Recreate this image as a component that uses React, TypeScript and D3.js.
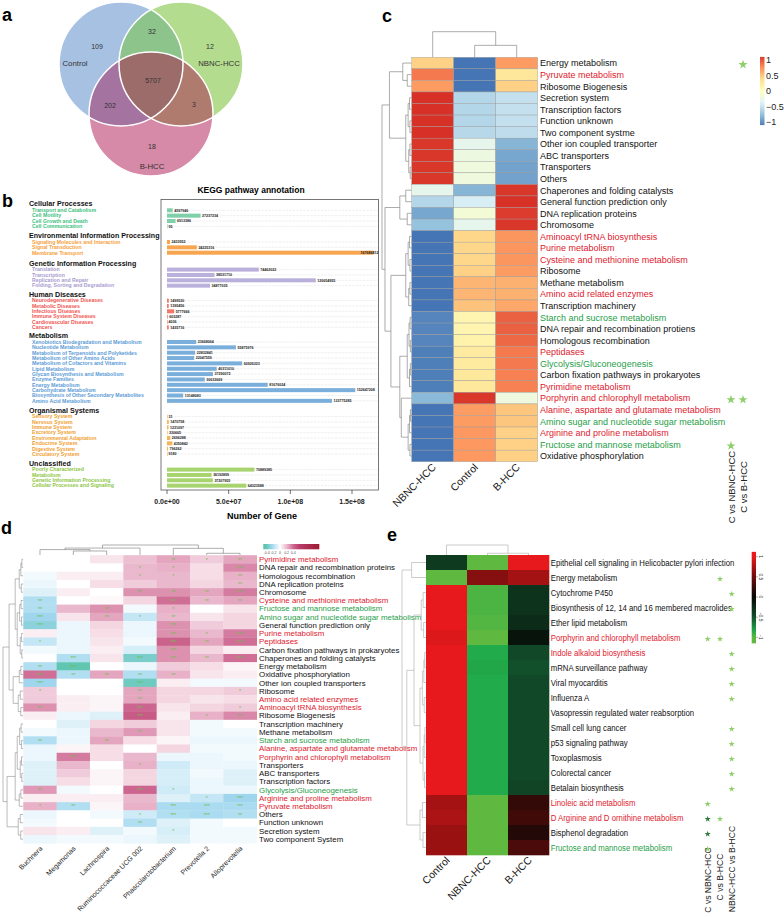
import React from "react";
import * as d3 from "d3";

// ---------- panel a : venn ----------
const vennNames = ["Control", "NBNC-HCC", "B-HCC"];
// only C, only N, only B, C&N, C&B, N&B, all
const vennCounts = [109, 12, 18, 32, 202, 3, 5707];

// ---------- panel b : KEGG annotation ----------
const keggGroups = [
  "Cellular Processes",
  "Environmental Information Processing",
  "Genetic Information Processing",
  "Human Diseases",
  "Metabolism",
  "Organismal Systems",
  "Unclassified",
];
const keggPathways = [
  ["Transport and Catabolism", "Cell Motility", "Cell Growth and Death", "Cell Communication"],
  ["Signaling Molecules and Interaction", "Signal Transduction", "Membrane Transport"],
  ["Translation", "Transcription", "Replication and Repair", "Folding, Sorting and Degradation"],
  ["Neurodegenerative Diseases", "Metabolic Diseases", "Infectious Diseases", "Immune System Diseases", "Cardiovascular Diseases", "Cancers"],
  [
    "Xenobiotics Biodegradation and Metabolism",
    "Nucleotide Metabolism",
    "Metabolism of Terpenoids and Polyketides",
    "Metabolism of Other Amino Acids",
    "Metabolism of Cofactors and Vitamins",
    "Lipid Metabolism",
    "Glycan Biosynthesis and Metabolism",
    "Enzyme Families",
    "Energy Metabolism",
    "Carbohydrate Metabolism",
    "Biosynthesis of Other Secondary Metabolites",
    "Amino Acid Metabolism",
  ],
  ["Sensory System", "Nervous System", "Immune System", "Excretory System", "Environmental Adaptation", "Endocrine System", "Digestive System", "Circulatory System"],
  ["Poorly Characterized", "Metabolism", "Genetic Information Processing", "Cellular Processes and Signaling"],
];
const keggGenes = [
  [4597946, 27237234, 6913386, 95],
  [2433952, 24225316, 167686812],
  [74462022, 38531710, 120654955, 34877035],
  [1499520, 1395456, 5777666, 603287, 4036, 1435716],
  [23668064, 55875976, 22832841, 22047559, 60926323, 40311010, 37290072, 30633669, 81676024, 152647208, 13148083, 133775285],
  [31, 1470758, 1231097, 330665, 2696288, 4350842, 796262, 9180],
  [70889385, 36192899, 37207955, 64323588],
];
const keggTicks = [0, 5e7, 1e8, 1.5e8];
const keggTickLabels = ["0.0e+00", "5.0e+07", "1.0e+08", "1.5e+08"];
const keggTextColors = ["#3cbf80", "#f5a03c", "#a99bd0", "#ef5550", "#5b9bd5", "#f0a030", "#8cc63f"];
const keggBarColors = ["#7fd0a8", "#f7a54e", "#b9b0dc", "#f2786a", "#7aafdc", "#f6b458", "#a8d46f"];

// ---------- panel c ----------
const cCols = ["NBNC-HCC", "Control", "B-HCC"];
const cRows = [
  "Energy metabolism", "Pyruvate metabolism", "Ribosome Biogenesis", "Secretion system", "Transcription factors",
  "Function unknown", "Two component systme", "Other ion coupled transporter", "ABC transporters", "Transporters",
  "Others", "Chaperones and folding catalysts", "General function prediction only", "DNA replication proteins", "Chromosome",
  "Aminoacyl tRNA biosynthesis", "Purine metabolism", "Cysteine and methionine metabolism", "Ribosome", "Methane metabolism",
  "Amino acid related enzymes", "Transcription machinery", "Starch and sucrose metabolism", "DNA repair and recombination protiens", "Homologous recombination",
  "Peptidases", "Glycolysis/Gluconeogenesis", "Carbon fixation pathways in prokaryotes", "Pyrimidine metabolism", "Porphyrin and chlorophyll metabolism",
  "Alanine, aspartate and glutamate metabolism", "Amino sugar and nucleotide sugar metabolism", "Arginine and proline metabolism", "Fructose and mannose metabolism", "Oxidative phosphorylation",
];
const cTone = [
  "k", "r", "k", "k", "k", "k", "k", "k", "k", "k",
  "k", "k", "k", "k", "k", "r", "r", "r", "k", "k",
  "r", "k", "g", "k", "k", "r", "g", "k", "r", "r",
  "r", "g", "r", "g", "k",
];
const cValues = [
  [0.45, -1.15, 0.7], [0.85, -1.15, 0.3], [0.7, -1.15, 0.45], [1.15, -0.6, -0.52], [1.15, -0.6, -0.52],
  [1.15, -0.6, -0.52], [1.15, -0.58, -0.55], [1.12, -0.3, -0.82], [1.12, -0.22, -0.9], [1.12, -0.2, -0.92],
  [1.12, -0.2, -0.92], [-0.3, -0.82, 1.12], [-0.6, -0.42, 1.14], [-0.9, -0.15, 1.1], [-0.75, -0.3, 1.12],
  [-1.15, 0.42, 0.73], [-1.15, 0.42, 0.73], [-1.15, 0.42, 0.73], [-1.15, 0.45, 0.7], [-1.15, 0.58, 0.6],
  [-1.15, 0.58, 0.6], [-1.15, 0.52, 0.65], [-1.07, 0.12, 0.95], [-1.07, 0.12, 0.95], [-1.07, 0.15, 0.92],
  [-1.1, 0.25, 0.85], [-1.1, 0.25, 0.85], [-1.1, 0.28, 0.82], [-1.1, 0.28, 0.82], [-0.8, 1.12, -0.2],
  [-1.15, 0.7, 0.5], [-1.15, 0.7, 0.5], [-1.15, 0.72, 0.45], [-1.15, 0.72, 0.45], [-1.15, 0.72, 0.45],
];
const cCompare = ["C vs NBNC-HCC", "C vs B-HCC"];
const cStars: Record<number, number[]> = { 0: [1], 29: [0, 1], 33: [0] };
const cLegendTicks = [1, 0.5, 0, -0.5, -1];

// ---------- panel d ----------
const dCols = ["Buchnera", "Megamonas", "Lachnospira", "Ruminococcaceae UCG 002", "Phascolarctobacterium", "Prevotella 2", "Alloprevotella"];
const dRows = [
  "Pyrimidine metabolism", "DNA repair and recombination proteins", "Homologous recombination", "DNA replication proteins", "Chromosome",
  "Cysteine and methionine metabolism", "Fructose and mannose metabolism", "Amino sugar and nucleotide sugar metabolism", "General function prediction only", "Purine metabolism",
  "Peptidases", "Carbon fixation pathways in prokaryotes", "Chaperones and folding catalysts", "Energy metabolism", "Oxidative phosphorylation",
  "Other ion coupled transporters", "Ribosome", "Amino acid related enzymes", "Aminoacyl tRNA biosynthesis", "Ribosome Biogenesis",
  "Transcription machinery", "Methane metabolism", "Starch and sucrose metabolism", "Alanine, aspartate and glutamate metabolism", "Porphyrin and chlorophyll metabolism",
  "Transporters", "ABC transporters", "Transcription factors", "Glycolysis/Gluconeogenesis", "Arginine and proline metabolism",
  "Pyruvate metabolism", "Others", "Function unknown", "Secretion system", "Two component System",
];
const dTone = [
  "r", "k", "k", "k", "k", "r", "g", "g", "k", "r",
  "r", "k", "k", "k", "k", "k", "k", "r", "r", "k",
  "k", "k", "g", "r", "r", "k", "k", "k", "g", "r",
  "r", "k", "k", "k", "k",
];
const dValues = [
  [0, 0, 0.08, 0.18, 0.25, 0.15, 0.25],
  [0, 0, 0, 0.2, 0.22, 0.1, 0.32],
  [-0.03, 0.05, 0.05, 0.2, 0.2, 0.1, 0.22],
  [-0.05, 0, 0.1, 0.15, 0.2, 0.12, 0.2],
  [-0.08, 0.05, 0, 0.3, 0.3, 0.25, 0.35],
  [-0.2, 0, 0.02, 0.12, 0.38, 0.2, 0.25],
  [-0.2, 0.2, 0.3, -0.03, 0.22, 0, 0.08],
  [-0.25, 0.08, 0.25, -0.15, 0.2, 0.08, 0.12],
  [-0.3, -0.05, 0.12, -0.05, 0.3, 0.15, 0.12],
  [0.05, -0.05, 0.1, -0.05, 0.3, 0.2, 0.35],
  [-0.15, -0.05, 0.08, -0.03, 0.42, 0.25, 0.38],
  [-0.03, -0.05, 0.05, -0.1, 0.3, 0.12, 0.05],
  [0, -0.2, 0.08, -0.35, 0.3, 0.2, 0.38],
  [-0.2, -0.42, 0, -0.05, 0.15, 0.1, 0.03],
  [0.38, -0.2, 0.25, -0.2, 0.22, 0.08, 0.05],
  [-0.25, 0, 0, -0.38, 0.05, -0.03, -0.03],
  [0.15, 0, 0, 0.25, 0.12, 0.12, 0.15],
  [0.15, 0.05, 0.03, 0.25, 0.12, 0.08, 0.1],
  [0.3, 0.05, 0.03, 0.4, 0.08, 0.12, 0.15],
  [0.05, -0.05, -0.08, 0.45, 0.05, 0.22, 0.32],
  [0, -0.08, 0.12, 0.15, 0.08, -0.03, 0],
  [-0.03, -0.05, 0.2, 0.28, 0.08, -0.03, -0.03],
  [-0.2, -0.05, 0.25, 0.1, 0.03, -0.05, -0.05],
  [-0.05, 0.03, 0.1, 0, 0.12, -0.03, -0.03],
  [-0.05, 0.35, 0.1, 0.2, -0.05, -0.05, -0.03],
  [-0.08, 0.2, 0, 0.22, -0.12, -0.05, -0.05],
  [-0.08, 0.15, 0.03, 0.12, -0.1, -0.03, -0.08],
  [-0.08, 0.1, 0.03, 0.12, -0.1, -0.05, -0.08],
  [0.28, -0.03, 0, 0.4, -0.12, -0.05, -0.05],
  [0.05, 0.05, 0.05, 0.2, -0.08, -0.15, -0.25],
  [0.22, -0.2, 0.03, 0.22, -0.22, -0.22, -0.22],
  [-0.05, 0, -0.03, -0.12, -0.2, -0.22, -0.2],
  [-0.03, 0, 0, -0.2, -0.08, -0.03, 0],
  [0.08, 0.05, -0.08, -0.03, -0.1, -0.03, -0.03],
  [-0.05, -0.03, -0.03, -0.05, -0.08, -0.03, -0.03],
];
const dSig = [
  ["", "", "", "", "**", "*", "**"],
  ["", "", "", "*", "*", "", "***"],
  ["", "", "", "*", "*", "", "**"],
  ["", "", "", "", "", "", "**"],
  ["", "", "", "**", "**", "**", "***"],
  ["**", "", "", "", "***", "**", "**"],
  ["**", "", "**", "", "*", "", ""],
  ["***", "", "**", "*", "**", "", ""],
  ["***", "", "", "", "***", "", ""],
  ["", "", "", "", "***", "*", "***"],
  ["*", "", "", "", "***", "**", "***"],
  ["", "", "", "", "***", "", ""],
  ["", "***", "", "***", "***", "**", "***"],
  ["**", "***", "", "", "", "", ""],
  ["***", "**", "**", "**", "**", "", ""],
  ["***", "", "", "***", "", "", ""],
  ["*", "", "", "**", "", "", "*"],
  ["", "", "", "**", "", "", ""],
  ["**", "", "", "***", "", "", "*"],
  ["", "", "", "***", "", "*", "**"],
  ["", "", "", "", "", "", ""],
  ["", "", "", "**", "", "", ""],
  ["**", "", "**", "", "", "", ""],
  ["", "", "", "", "", "", ""],
  ["", "***", "", "", "", "", ""],
  ["", "", "", "*", "", "", ""],
  ["", "", "", "", "", "", ""],
  ["", "", "", "", "", "", ""],
  ["**", "", "", "***", "*", "", ""],
  ["", "", "", "", "", "*", "***"],
  ["*", "**", "", "", "***", "***", "***"],
  ["", "", "", "*", "***", "***", "**"],
  ["", "", "", "**", "", "", ""],
  ["", "", "", "", "*", "", ""],
  ["", "", "", "", "", "", ""],
];
const dLegendTicks = [-0.4, -0.2, 0, 0.2, 0.4];

// ---------- panel e ----------
const eCols = ["Control", "NBNC-HCC", "B-HCC"];
const eRows = [
  "Epithelial cell signaling in Helicobacter pylori infection", "Energy metabolism", "Cytochrome P450",
  "Biosynthesis of 12, 14 and 16 membered macrolides", "Ether lipid metabolism", "Porphyrin and chlorophyll metabolism",
  "Indole alkaloid biosynthesis", "mRNA surveillance pathway", "Viral myocarditis", "Influenza A",
  "Vasopressin regulated water reabsorption", "Small cell lung cancer", "p53 signaling pathway", "Toxoplasmosis",
  "Colorectal cancer", "Betalain biosynthesis", "Linoleic acid metabolism", "D Arginine and D ornithine metabolism",
  "Bisphenol degradation", "Fructose and mannose metabolism",
];
const eTone = ["k", "k", "k", "k", "k", "r", "r", "k", "k", "k", "k", "k", "k", "k", "k", "k", "r", "r", "k", "g"];
const eValues = [
  [-0.35, -1, 1], [-1, 0.6, 0.72], [1, -0.95, -0.3], [1, -0.95, -0.3], [1, -0.97, -0.25],
  [0.95, -1, -0.08], [1, -0.85, -0.45], [1, -0.83, -0.5], [1, -0.85, -0.45], [1, -0.85, -0.45],
  [1, -0.85, -0.45], [1, -0.85, -0.45], [1, -0.85, -0.45], [1, -0.85, -0.45], [1, -0.85, -0.45],
  [1, -0.85, -0.42], [0.72, -1, 0.22], [0.75, -1, 0.28], [0.68, -1, 0.14], [0.68, -1, 0.33],
];
const eCompare = ["C vs NBNC-HCC", "C vs B-HCC", "NBNC-HCC vs B-HCC"];
// l = light star, d = dark star
const eStars = [
  ["", "", ""], ["", "l", ""], ["", "", "l"], ["", "", "l"], ["", "", ""],
  ["l", "l", ""], ["", "", "l"], ["", "", "l"], ["", "", "l"], ["", "", "l"],
  ["", "", ""], ["", "", "l"], ["", "", "l"], ["", "", "l"], ["", "", "l"],
  ["", "", "l"], ["l", "", ""], ["d", "l", ""], ["d", "", ""], ["l", "", ""],
];
const eLegendTicks = [1, 0.5, 0, -0.5, -1];

// ---------- helpers ----------
type Tree = number | [number, Tree, Tree];

const span = (lo: number, hi: number, h: number): Tree => {
  if (lo === hi) return lo;
  const mid = Math.floor((lo + hi) / 2);
  return [h, span(lo, mid, h * 0.6), span(mid + 1, hi, h * 0.5)];
};

function dendroPath(t: Tree, leaf: (i: number) => number, hs: (h: number) => number, rows: boolean) {
  let d = "";
  const pt = (p: number, h: number) => (rows ? `${hs(h)},${p}` : `${p},${hs(h)}`);
  const walk = (n: Tree): { p: number; h: number } => {
    if (typeof n === "number") return { p: leaf(n), h: 0 };
    const [h, a, b] = n;
    const A = walk(a);
    const B = walk(b);
    d += `M${pt(A.p, A.h)}L${pt(A.p, h)}L${pt(B.p, h)}L${pt(B.p, B.h)}`;
    return { p: (A.p + B.p) / 2, h };
  };
  walk(t);
  return d;
}

const toneColor: Record<string, string> = { k: "#111", r: "#e0202e", g: "#1f9e48" };
const lightStar = "#8fce6a";
const darkStar = "#2f7a3a";

const Lbl = ({ x, y, fs, sx, fill, children }: any) => (
  <text transform={`translate(${x},${y}) scale(${sx},1)`} fontSize={fs} fill={fill} dy="0.35em">
    {children}
  </text>
);

export default function App() {
  const W = 784;
  const H = 917;
  const font = "'Liberation Sans', Arial, Helvetica, sans-serif";

  // ---- a ----
  const vc = [
    { x: 121, y: 64 },
    { x: 181, y: 64 },
    { x: 151, y: 114 },
  ];
  const vr = 62;
  const vennPos = [
    [97, 47], [210, 47], [152, 147], [152, 32], [110, 106], [194, 105], [153, 81],
  ];
  const vennNamePos = [
    [75, 63], [219, 63], [152, 166],
  ];

  // ---- b ----
  const xB = d3.scaleLinear().domain([0, 1.5e8]).range([167, 352]);
  const headerY = [204, 235.7, 263.3, 294.3, 335.7, 410.3, 463.3];
  const boxL = 161, boxR = 378.5, boxT = 199.5, boxB = 490;

  // ---- c ----
  const xC = d3.scaleBand<string>().domain(cCols).range([411.7, 537.7]);
  const yC = d3.scaleBand<number>().domain(d3.range(cRows.length)).range([57.3, 461.7]);
  const colC = d3
    .scaleLinear<string>()
    .domain([-1.15, -0.77, -0.38, 0, 0.38, 0.77, 1.15])
    .range(["#4575B4", "#91BFDB", "#E0F3F8", "#FFFFBF", "#FEE090", "#FC8D59", "#D73027"])
    .clamp(true);
  const cRowTree: Tree = [
    10,
    [7.5, [3, 0, [1.5, 1, 2]], span(3, 10, 2)],
    [9, [4, span(11, 12, 2), span(13, 14, 1.5)], [7, span(15, 21, 2), [4, span(22, 28, 1.5), [3.5, 29, span(30, 34, 1.2)]]]],
  ];
  const cColTree: Tree = [3, 0, [1.4, 1, 2]];
  const cRowPath = dendroPath(cRowTree, (i) => yC(i)! + yC.bandwidth() / 2, d3.scaleLinear().domain([0, 10]).range([411.7, 382]), true);
  const cColPath = dendroPath(cColTree, (i) => xC(cCols[i])! + xC.bandwidth() / 2, d3.scaleLinear().domain([0, 3]).range([57.3, 31.7]), false);
  const cStarX = [731, 743];
  const yCL = d3.scaleLinear().domain([1, -1]).range([60, 122]);

  // ---- d ----
  const xD = d3.scaleBand<string>().domain(dCols).range([23.3, 256.7]);
  const yD = d3.scaleBand<number>().domain(d3.range(dRows.length)).range([555.2, 843.3]);
  const colD = d3
    .scaleLinear<string>()
    .domain([-0.45, -0.25, -0.1, 0, 0.1, 0.25, 0.4, 0.6, 1.2])
    .range(["#55c3a5", "#9fd6ee", "#d6eef8", "#ffffff", "#f6dde6", "#e4a6bf", "#cc6690", "#b83a68", "#9e1a30"])
    .clamp(true);
  const dColTree: Tree = [4, [2.8, [2.2, 0, [1.65, 1, 2]], 3], [2.7, 4, [0.75, 5, 6]]];
  const dRowTree: Tree = [
    10,
    [7, [4, span(0, 4, 2), span(5, 12, 3)], [5, span(13, 15, 2), span(16, 19, 2.5)]],
    [8, [4, span(20, 27, 3), span(28, 30, 2)], span(31, 34, 2.5)],
  ];
  const dColPath = dendroPath(dColTree, (i) => xD(dCols[i])! + xD.bandwidth() / 2, d3.scaleLinear().domain([0, 4]).range([555.2, 545]), false);
  const dRowPath = dendroPath(dRowTree, (i) => yD(i)! + yD.bandwidth() / 2, d3.scaleLinear().domain([0, 10]).range([23.3, 3]), true);
  const xDL = d3.scaleLinear().domain([-0.5, 1.18]).range([263.3, 319.3]);

  // ---- e ----
  const xE = d3.scaleBand<string>().domain(eCols).range([426, 549]);
  const yE = d3.scaleBand<number>().domain(d3.range(eRows.length)).range([555, 855]);
  const colE = d3
    .scaleLinear<string>()
    .domain([-1, -0.85, -0.5, 0, 0.5, 1])
    .range(["#5fb840", "#22ab4a", "#124f2b", "#060806", "#6e0c0c", "#e8191c"])
    .clamp(true);
  const eColTree: Tree = [4, 0, [0.7, 1, 2]];
  const eRowTree: Tree = [10, [6, 0, 1], [8, [5, span(2, 5, 2), span(6, 15, 2.5)], span(16, 19, 2.5)]];
  const eColPath = dendroPath(eColTree, (i) => xE(eCols[i])! + xE.bandwidth() / 2, d3.scaleLinear().domain([0, 4]).range([555, 545]), false);
  const eRowPath = dendroPath(eRowTree, (i) => yE(i)! + yE.bandwidth() / 2, d3.scaleLinear().domain([0, 10]).range([426, 402]), true);
  const eStarX = [707.7, 720, 731.7];
  const yEL = d3.scaleLinear().domain([1, -1]).range([556.7, 637.3]);

  const bigStar = d3.symbol().type(d3.symbolStar).size(26)()!;
  const smallStar = d3.symbol().type(d3.symbolStar).size(12)()!;

  const gradStops = (scale: (v: number) => string, lo: number, hi: number) =>
    d3.range(0, 1.0001, 0.05).map((t) => <stop key={t} offset={`${t * 100}%`} stopColor={scale(lo + (hi - lo) * t)} />);

  return (
    <svg width={W} height={H} style={{ position: "absolute", left: 0, top: 0, background: "#fff" }} fontFamily={font}>
      <defs>
        <clipPath id="vC">
          <circle cx={vc[0].x} cy={vc[0].y} r={vr} />
        </clipPath>
        <clipPath id="vN">
          <circle cx={vc[1].x} cy={vc[1].y} r={vr} />
        </clipPath>
        <linearGradient id="gC" x1="0" y1="1" x2="0" y2="0">
          {gradStops(colC, -1.1, 1.1)}
        </linearGradient>
        <linearGradient id="gD" x1="0" y1="0" x2="1" y2="0">
          {gradStops(colD, -0.5, 1.18)}
        </linearGradient>
        <linearGradient id="gE" x1="0" y1="1" x2="0" y2="0">
          {gradStops(colE, -1.15, 1.12)}
        </linearGradient>
      </defs>

      {/* panel letters */}
      <g fontWeight="bold" fontSize={18} fill="#000">
        <text x={2} y={21}>a</text>
        <text x={2} y={207}>b</text>
        <text x={382} y={22}>c</text>
        <text x={1} y={534}>d</text>
        <text x={387} y={541}>e</text>
      </g>

      {/* ---------- a ---------- */}
      <g>
        <circle cx={vc[0].x} cy={vc[0].y} r={vr} fill="#a7c1e3" />
        <circle cx={vc[1].x} cy={vc[1].y} r={vr} fill="#b4dc8e" />
        <circle cx={vc[2].x} cy={vc[2].y} r={vr} fill="#d68aa7" />
        <circle cx={vc[1].x} cy={vc[1].y} r={vr} fill="#8cc48b" clipPath="url(#vC)" />
        <circle cx={vc[2].x} cy={vc[2].y} r={vr} fill="#a5739f" clipPath="url(#vC)" />
        <circle cx={vc[2].x} cy={vc[2].y} r={vr} fill="#b07b6f" clipPath="url(#vN)" />
        <g clipPath="url(#vC)">
          <circle cx={vc[2].x} cy={vc[2].y} r={vr} fill="#9b6c69" clipPath="url(#vN)" />
        </g>
        {vc.map((c, i) => (
          <circle key={i} cx={c.x} cy={c.y} r={vr} fill="none" stroke="#fff" strokeWidth={1.5} />
        ))}
        {vennCounts.map((v, i) => (
          <text key={i} x={vennPos[i][0]} y={vennPos[i][1]} dy="0.35em" textAnchor="middle" fontSize={7} fill="#333">
            {v}
          </text>
        ))}
        {vennNames.map((n, i) => (
          <text key={n} x={vennNamePos[i][0]} y={vennNamePos[i][1]} dy="0.35em" textAnchor="middle" fontSize={7.8} fill="#333">
            {n}
          </text>
        ))}
      </g>

      {/* ---------- b ---------- */}
      <g>
        <text x={251} y={193} textAnchor="middle" fontSize={8.5} fontWeight="bold">
          KEGG pathway annotation
        </text>
        <rect x={boxL} y={boxT} width={boxR - boxL} height={boxB - boxT} fill="none" stroke="#555" strokeWidth={0.8} />
        {keggGroups.map((g, gi) => {
          const y0 = headerY[gi];
          return (
            <g key={g}>
              <text x={29} y={y0} dy="0.35em" fontSize={7.1} fontWeight="bold" fill="#111">
                {g}
              </text>
              {keggPathways[gi].map((p, pi) => {
                const y = y0 + 6.3 + pi * 5.35;
                const v = keggGenes[gi][pi];
                const x1 = xB(v);
                const lx = Math.min(x1 + 1.5, boxR - 18);
                return (
                  <g key={p}>
                    <text x={32} y={y} dy="0.35em" fontSize={5.2} fontWeight="bold" fill={keggTextColors[gi]}>
                      {p}
                    </text>
                    <line x1={xB(0)} x2={boxR} y1={y} y2={y} stroke="#bbb" strokeWidth={0.4} strokeDasharray="0.6,0.8" />
                    <rect x={xB(0)} y={y - 2} width={Math.max(0.6, x1 - xB(0))} height={4} fill={keggBarColors[gi]} />
                    <text x={lx} y={y} dy="0.35em" fontSize={3.6} fontWeight="bold" fill="#222">
                      {v}
                    </text>
                  </g>
                );
              })}
            </g>
          );
        })}
        {keggTicks.map((t, i) => (
          <g key={t}>
            <line x1={xB(t)} x2={xB(t)} y1={boxB} y2={boxB + 4} stroke="#333" strokeWidth={0.7} />
            <text x={xB(t)} y={504} textAnchor="middle" fontSize={7} fontWeight="bold" fill="#222">
              {keggTickLabels[i]}
            </text>
          </g>
        ))}
        <text x={262} y={519} textAnchor="middle" fontSize={9} fontWeight="bold">
          Number of Gene
        </text>
      </g>

      {/* ---------- c ---------- */}
      <g>
        <path d={cColPath} fill="none" stroke="#888" strokeWidth={0.7} />
        <path d={cRowPath} fill="none" stroke="#888" strokeWidth={0.7} />
        {cValues.map((row, ri) =>
          row.map((v, ci) => (
            <rect
              key={`${ri}-${ci}`}
              x={xC(cCols[ci])}
              y={yC(ri)}
              width={xC.bandwidth()}
              height={yC.bandwidth()}
              fill={colC(v)}
              stroke="#9a9a9a"
              strokeWidth={0.4}
            />
          ))
        )}
        {cRows.map((r, i) => (
          <Lbl key={r} x={540} y={yC(i)! + yC.bandwidth() / 2} fs={9.5} sx={0.95} fill={toneColor[cTone[i]]}>
            {r}
          </Lbl>
        ))}
        {cCols.map((c) => (
          <text
            key={c}
            transform={`translate(${xC(c)! + xC.bandwidth() / 2 + 4},468) rotate(-45)`}
            textAnchor="end"
            fontSize={10.5}
            fill="#222"
          >
            {c}
          </text>
        ))}
        {Object.entries(cStars).map(([row, cols]) =>
          cols.map((ci) => (
            <path
              key={`${row}-${ci}`}
              d={bigStar}
              transform={`translate(${cStarX[ci]},${yC(+row)! + yC.bandwidth() / 2 + 1.5})`}
              fill={lightStar}
            />
          ))
        )}
        {cCompare.map((c, i) => (
          <text key={c} transform={`translate(${cStarX[i] + 3.5},487) rotate(-90)`} textAnchor="middle" fontSize={9.5} fill="#222">
            {c}
          </text>
        ))}
        <rect x={760} y={yCL(1.1)} width={4.5} height={yCL(-1.1) - yCL(1.1)} fill="url(#gC)" />
        {cLegendTicks.map((t) => (
          <text key={t} x={766} y={yCL(t)} dy="0.35em" fontSize={9} fill="#222">
            {t < 0 ? `\u2212${Math.abs(t)}` : t}
          </text>
        ))}
      </g>

      {/* ---------- d ---------- */}
      <g>
        <path d={dColPath} fill="none" stroke="#777" strokeWidth={0.6} />
        <path d={dRowPath} fill="none" stroke="#777" strokeWidth={0.5} />
        {dValues.map((row, ri) =>
          row.map((v, ci) => (
            <rect key={`${ri}-${ci}`} x={xD(dCols[ci])} y={yD(ri)} width={xD.bandwidth() + 0.3} height={yD.bandwidth() + 0.3} fill={colD(v)} />
          ))
        )}
        {dSig.map((row, ri) =>
          row.map((s, ci) =>
            s ? (
              <text
                key={`${ri}-${ci}`}
                x={xD(dCols[ci])! + xD.bandwidth() / 2}
                y={yD(ri)! + yD.bandwidth() / 2 + 2.2}
                textAnchor="middle"
                fontSize={5}
                fill="#6abf4b"
              >
                {s}
              </text>
            ) : null
          )
        )}
        {dRows.map((r, i) => (
          <Lbl key={r} x={259} y={yD(i)! + yD.bandwidth() / 2} fs={7.9} sx={1.0} fill={toneColor[dTone[i]]}>
            {r}
          </Lbl>
        ))}
        {dCols.map((c) => (
          <text
            key={c}
            transform={`translate(${xD(c)! + xD.bandwidth() / 2 + 3},849) rotate(-45)`}
            textAnchor="end"
            fontSize={7}
            fill="#222"
          >
            {c}
          </text>
        ))}
        <rect x={xDL(-0.5)} y={544} width={xDL(1.18) - xDL(-0.5)} height={5.3} fill="url(#gD)" />
        {dLegendTicks.map((t) => (
          <text key={t} x={xDL(t)} y={554} textAnchor="middle" fontSize={3.6} fill="#555">
            {t}
          </text>
        ))}
      </g>

      {/* ---------- e ---------- */}
      <g>
        <path d={eColPath} fill="none" stroke="#aaa" strokeWidth={0.6} />
        <path d={eRowPath} fill="none" stroke="#aaa" strokeWidth={0.6} />
        {eValues.map((row, ri) =>
          row.map((v, ci) => (
            <rect key={`${ri}-${ci}`} x={xE(eCols[ci])} y={yE(ri)} width={xE.bandwidth() + 0.3} height={yE.bandwidth() + 0.3} fill={colE(v)} />
          ))
        )}
        {eRows.map((r, i) => (
          <Lbl key={r} x={550.7} y={yE(i)! + yE.bandwidth() / 2} fs={9.5} sx={0.82} fill={toneColor[eTone[i]]}>
            {r}
          </Lbl>
        ))}
        {eCols.map((c) => (
          <text
            key={c}
            transform={`translate(${xE(c)! + xE.bandwidth() / 2 + 4},861) rotate(-45)`}
            textAnchor="end"
            fontSize={10.5}
            fill="#222"
          >
            {c}
          </text>
        ))}
        {eStars.map((row, ri) =>
          row.map((s, ci) =>
            s ? (
              <path
                key={`${ri}-${ci}`}
                d={smallStar}
                transform={`translate(${eStarX[ci]},${yE(ri)! + yE.bandwidth() / 2 + 1.5})`}
                fill={s === "d" ? darkStar : lightStar}
              />
            ) : null
          )
        )}
        {eCompare.map((c, i) => (
          <text
            key={c}
            transform={`translate(${eStarX[i] + 3.2},${[880, 877, 869][i]}) rotate(-90)`}
            textAnchor="middle"
            fontSize={8.6}
            fill="#222"
          >
            {c}
          </text>
        ))}
        <rect x={751.7} y={yEL(1.12)} width={4.3} height={yEL(-1.15) - yEL(1.12)} fill="url(#gE)" />
        {eLegendTicks.map((t) => (
          <g key={t}>
            <line x1={756} x2={758} y1={yEL(t)} y2={yEL(t)} stroke="#444" strokeWidth={0.4} />
            <text transform={`translate(${759},${yEL(t)}) rotate(90)`} textAnchor="middle" fontSize={5} fill="#333">
              {t}
            </text>
          </g>
        ))}
      </g>
    </svg>
  );
}
